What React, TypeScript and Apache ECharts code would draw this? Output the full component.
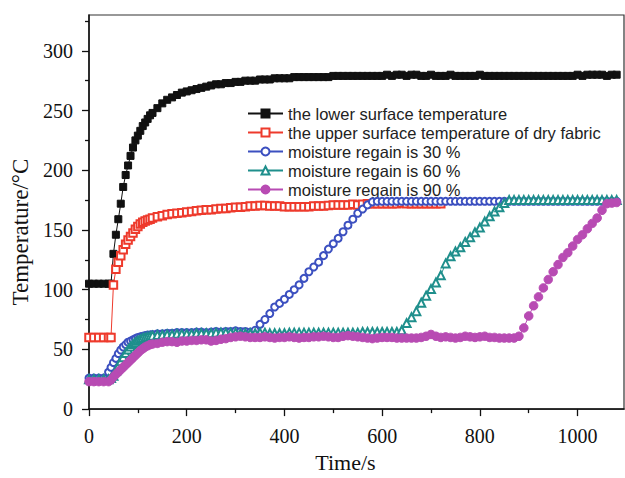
import React, { useEffect, useRef } from 'react';
import * as echarts from 'echarts';

// Time samples (s)
const TIME = [
  0, 10, 20, 30, 40, 45, 50, 55, 60, 65, 70, 75, 80, 85, 90, 95, 100, 105, 110, 115, 120, 125, 130,
  140, 150, 160, 170, 180, 190, 200, 210, 220, 230,
  240, 250, 260, 270, 280, 290, 300, 310, 320, 330,
  340, 350, 360, 370, 380, 390, 400, 410, 420, 430,
  440, 450, 460, 470, 480, 490, 500, 510, 520, 530,
  540, 550, 560, 570, 580, 590, 600, 610, 620, 630,
  640, 650, 660, 670, 680, 690, 700, 710, 720, 730,
  740, 750, 760, 770, 780, 790, 800, 810, 820, 830,
  840, 850, 860, 870, 880, 890, 900, 910, 920, 930,
  940, 950, 960, 970, 980, 990, 1000, 1010, 1020, 1030,
  1040, 1050, 1060, 1070, 1080,
];

// the lower surface temperature
const LOWER = [
  105, 105, 105, 105, 105, 105, 130, 146, 159, 172, 186, 196, 204, 212, 219, 225, 229, 233, 237, 240, 243, 246, 248,
  252, 256, 259, 261, 263, 265, 266, 267, 268, 269,
  270, 271, 272, 272, 273, 273, 274, 274, 275, 275,
  275, 276, 276, 276, 277, 277, 277, 277, 278, 278,
  278, 278, 278, 278, 278, 278, 279, 279, 279, 279,
  279, 279, 279, 279, 279, 279, 279, 280, 279, 280,
  280, 279, 280, 280, 279, 279, 280, 279, 279, 279,
  280, 279, 279, 279, 279, 279, 280, 279, 279, 279,
  279, 279, 279, 279, 279, 279, 279, 279, 279, 279,
  279, 279, 279, 279, 279, 279, 280, 279, 280, 280,
  280, 280, 279, 280, 280,
];

// the upper surface temperature of dry fabric (ends at 720 s)
const UPPER = [
  60, 60, 60, 60, 60, 60, 104, 117, 123, 128.5, 133.5, 138, 141.5, 144.5, 147.5, 150.5, 153, 155, 156.5, 157.6, 158.3, 159, 160,
  161, 162, 163, 163.5, 164, 164.5, 165, 165.5, 166, 166.5,
  167, 167, 167.5, 168, 168, 168.5, 169, 169, 169.5, 170,
  170, 170.5, 170.5, 170, 170, 170, 169.5, 169.5, 169.5, 169.5,
  169.5, 169.5, 170, 170, 170, 170.5, 171, 171, 171, 171,
  171.5, 171, 171.5, 172, 172, 172, 172, 172, 172, 172,
  172.5, 172, 172, 172, 172, 172, 172, 172, 172,
];

// moisture regain is 30 %
const MR30 = [
  26, 26, 26, 26, 31, 35, 39, 42.5, 46.5, 49.5, 52, 54, 56, 57, 58, 59, 60, 60.5, 61, 61.5, 62, 62, 62.5,
  63, 63, 63.5, 63.5, 64, 64, 64, 64, 64.5, 64.5,
  64, 64.5, 65, 64.5, 65, 65, 65.5, 65, 65, 64.5,
  66, 71, 75, 80, 85.5, 88.5, 92, 96, 100, 104,
  109.5, 115, 119, 123, 128.5, 134, 138.5, 143, 148.5, 154,
  159, 164, 167.5, 171, 173.5, 174, 174, 174, 174, 174,
  174, 174, 174, 174, 174, 174, 174, 174, 174, 174,
  174, 174, 174, 174, 174, 174, 174, 174, 174, 174,
  174, 174, 174, 174, 174, 174, 174, 174, 174, 174,
  174, 174, 174, 174, 174, 174, 174, 174, 174, 174,
  174, 174, 174, 174, 174,
];

// moisture regain is 60 %
const MR60 = [
  25, 25, 25, 25, 25, 26, 28, 32, 36, 40, 43.5, 47, 50, 52.5, 54.5, 56, 57.5, 58.5, 59.5, 60, 60.5, 61, 61.5,
  62, 62, 62.5, 62.5, 63, 63, 63, 63, 63.5, 63.5,
  63.5, 63.5, 64, 64, 64, 64, 64, 63.5, 63.5, 63.5,
  63.5, 64, 64, 63.5, 63.5, 63.5, 63.5, 64, 64, 64,
  64, 64, 64, 64, 64, 64, 64, 64, 64, 64,
  64, 64, 64.5, 64.5, 64.5, 64.5, 64.5, 64.5, 64.5, 64.5,
  66, 72, 77, 82, 89, 95, 100.5, 106, 112, 122,
  128, 132, 135.5, 140, 144, 148, 152, 157, 161.5, 165.5,
  169, 172.5, 175, 175, 175, 175, 175, 175, 175, 175,
  175, 175, 175, 175, 175, 175, 175, 175, 175, 175,
  175, 175, 175, 175, 175,
];

// moisture regain is 90 %
const MR90 = [
  23, 23, 23, 23, 23, 24.5, 27, 29, 31, 33, 35, 37, 39, 41, 43, 45, 47, 49, 50.5, 52, 53, 54, 54.5,
  55, 56, 56.5, 56.5, 56, 57, 57, 57.5, 57.5, 58,
  58, 57, 57.5, 58.5, 59, 60, 60.5, 61, 60.5, 60,
  60, 60, 60.5, 60, 59.5, 60, 60, 60.5, 60, 59.5,
  60, 60, 60.5, 60.5, 61, 60.5, 60, 60, 61, 61.5,
  61, 60.5, 60, 59.5, 59, 59.5, 60, 60, 60, 59.5,
  59.5, 59.5, 59.5, 59.5, 60, 61, 62.5, 61, 60, 60.5,
  60, 59.5, 60, 61, 60.5, 60, 60.5, 61, 60, 60,
  59.5, 59.5, 59.5, 59.5, 61, 68, 78, 86.5, 94, 101.5,
  108.5, 115, 121, 127, 131, 136.5, 142, 146, 151, 155.5,
  160, 166.5, 172, 172.5, 173,
];

const X_MAJOR = [0, 200, 400, 600, 800, 1000];
const X_MINOR = [100, 300, 500, 700, 900];
const Y_MAJOR = [0, 50, 100, 150, 200, 250, 300];
const Y_MINOR = [25, 75, 125, 175, 225, 275, 325];

const NAMES = [
  'the lower surface temperature',
  'the upper surface temperature of dry fabric',
  'moisture regain is 30 %',
  'moisture regain is 60 %',
  'moisture regain is 90 %',
];
const COLORS = ['#111111', '#ee3a2c', '#3c50c0', '#1f8f8c', '#b84bb3'];
const SYMBOLS = ['rect', 'emptyRect', 'emptyCircle', 'emptyTriangle', 'circle'];
const SYMBOL_SIZES = [7, 7.5, 7, 8, 8.5];

const SERIF = '"Liberation Serif", "Times New Roman", serif';
const SANS = '"Liberation Sans", Arial, sans-serif';

export default function App() {
  const ref = useRef<HTMLDivElement>(null);
  useEffect(() => {
    if (!ref.current) return;
    const chart = echarts.init(ref.current, null, { renderer: 'svg' });
    const values = [LOWER, UPPER, MR30, MR60, MR90];
    const series = values.map((vals, k) => ({
      name: NAMES[k],
      type: 'line',
      xAxisIndex: 0,
      yAxisIndex: 0,
      data: vals.map((v, i) => [TIME[i], v]),
      symbol: SYMBOLS[k],
      symbolSize: SYMBOL_SIZES[k],
      showAllSymbol: true,
      lineStyle: { color: COLORS[k], width: 1 },
      itemStyle: { color: COLORS[k], borderColor: COLORS[k], borderWidth: 1 },
      emphasis: { disabled: true },
      z: 2 + k,
    }));
    const axisLineStyle = { color: '#111', width: 1.5 };
    const tickStyle = { color: '#111', width: 1.3 };
    const plain = (v: number) => String(v);
    const option = {
      animation: false,
      backgroundColor: '#ffffff',
      grid: {
        left: 89,
        right: 1,
        top: 15,
        bottom: 64,
        show: true,
        borderColor: '#333',
        borderWidth: 1.2,
        backgroundColor: 'transparent',
      },
      legend: {
        orient: 'vertical',
        left: 247,
        top: 105,
        padding: 0,
        itemWidth: 35,
        itemHeight: 10,
        itemGap: 2,
        data: NAMES,
        textStyle: { fontFamily: SANS, fontSize: 16.5, lineHeight: 17, color: '#222' },
      },
      xAxis: [
        {
          type: 'value',
          min: 0,
          max: 1095,
          position: 'bottom',
          name: 'Time/s',
          nameLocation: 'middle',
          nameGap: 40,
          nameTextStyle: { fontFamily: SERIF, fontSize: 22, color: '#111', padding: [0, 22, 0, 0] },
          axisLine: { show: true, onZero: false, lineStyle: axisLineStyle },
          axisTick: { show: true, customValues: X_MAJOR, length: 7, lineStyle: tickStyle },
          axisLabel: { customValues: X_MAJOR, formatter: plain, margin: 17, fontFamily: SERIF, fontSize: 20, color: '#111' },
          splitLine: { show: false },
        },
        {
          type: 'value',
          min: 0,
          max: 1095,
          position: 'bottom',
          axisLine: { show: false, onZero: false },
          axisTick: { show: true, customValues: X_MINOR, length: 4, lineStyle: tickStyle },
          axisLabel: { show: false },
          splitLine: { show: false },
        },
      ],
      yAxis: [
        {
          type: 'value',
          min: 0,
          max: 330,
          position: 'left',
          name: 'Temperature/°C',
          nameLocation: 'middle',
          nameGap: 54,
          nameTextStyle: { fontFamily: SERIF, fontSize: 23, color: '#111', padding: [0, 40, 0, 0] },
          axisLine: { show: true, onZero: false, lineStyle: axisLineStyle },
          axisTick: { show: true, customValues: Y_MAJOR, length: 7, lineStyle: tickStyle },
          axisLabel: { customValues: Y_MAJOR, formatter: plain, margin: 16, fontFamily: SERIF, fontSize: 20, color: '#111' },
          splitLine: { show: false },
        },
        {
          type: 'value',
          min: 0,
          max: 330,
          position: 'left',
          axisLine: { show: false, onZero: false },
          axisTick: { show: true, customValues: Y_MINOR, length: 4, lineStyle: tickStyle },
          axisLabel: { show: false },
          splitLine: { show: false },
        },
      ],
      series,
    };
    chart.setOption(option as any);
    return () => chart.dispose();
  }, []);
  return (
    <div
      ref={ref}
      style={{ position: 'absolute', left: 0, top: 0, width: 625, height: 478, background: '#fff' }}
    />
  );
}
